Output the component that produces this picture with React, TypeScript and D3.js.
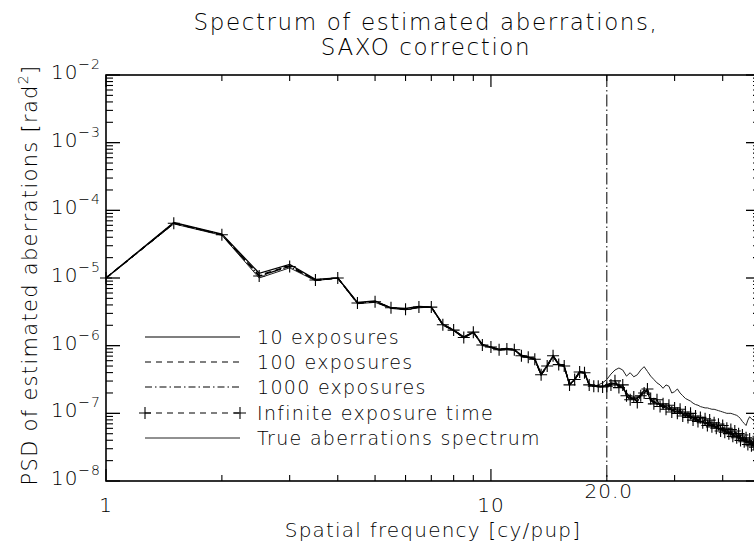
import React from 'react';
import * as d3 from 'd3';

// Spatial frequency grid [cy/pup]
const freq = [1,1.5,2,2.5,3,3.5,4,4.5,5,5.5,6,6.5,7,7.5,8,8.5,9,9.5,10,10.5,11,11.5,12,12.5,13,13.5,14,14.5,15,15.5,16,16.5,17,17.5,18,18.5,19,19.5,20,20.5,21,21.5,22,22.5,23,23.5,24,24.5,25,25.5,26,26.5,27,27.5,28,28.5,29,29.5,30,30.5,31,31.5,32,32.5,33,33.5,34,34.5,35,35.5,36,36.5,37,37.5,38,38.5,39,39.5,40,40.5,41,41.5,42,42.5,43,43.5,44,44.5,45,45.5,46,46.5,47,47.5,48,48.5,49,49.5,50];

// log10 of PSD [rad^2]
const infiniteLog = [-5.00,-4.19,-4.36,-4.97,-4.83,-5.03,-5.00,-5.37,-5.35,-5.44,-5.46,-5.43,-5.43,-5.69,-5.77,-5.88,-5.80,-5.99,-6.02,-6.06,-6.05,-6.06,-6.15,-6.17,-6.20,-6.43,-6.30,-6.15,-6.28,-6.30,-6.58,-6.50,-6.39,-6.40,-6.58,-6.60,-6.60,-6.61,-6.60,
-6.58,-6.52,-6.62,-6.58,-6.74,-6.80,-6.76,-6.84,-6.74,-6.70,-6.64,-6.78,-6.86,-6.80,-6.90,-6.86,-6.94,-6.88,-6.98,-6.92,-7.00,-6.94,-7.04,-6.98,-7.06,-7.00,-7.10,-7.04,-7.12,-7.06,-7.14,-7.08,-7.18,-7.10,-7.20,-7.14,-7.22,-7.16,-7.26,-7.18,-7.28,-7.22,-7.30,-7.24,-7.34,-7.26,-7.36,-7.30,-7.40,-7.32,-7.42,-7.36,-7.46,-7.38,-7.48,-7.42,-7.50,-7.44,-7.54,-7.48];

const exp10Log = [-5.00,-4.18,-4.35,-4.93,-4.80,-5.02,-5.00,-5.36,-5.34,-5.44,-5.45,-5.42,-5.43,-5.68,-5.77,-5.87,-5.80,-5.98,-6.02,-6.05,-6.04,-6.06,-6.14,-6.17,-6.19,-6.42,-6.29,-6.15,-6.27,-6.30,-6.57,-6.50,-6.38,-6.40,-6.57,-6.59,-6.60,-6.60,-6.58,
-6.55,-6.56,-6.58,-6.63,-6.70,-6.76,-6.80,-6.78,-6.72,-6.66,-6.68,-6.82,-6.82,-6.86,-6.86,-6.92,-6.90,-6.94,-6.94,-6.98,-6.96,-7.00,-7.00,-7.04,-7.02,-7.08,-7.06,-7.10,-7.10,-7.12,-7.12,-7.16,-7.14,-7.18,-7.16,-7.20,-7.20,-7.24,-7.22,-7.26,-7.26,-7.28,-7.28,-7.32,-7.30,-7.34,-7.34,-7.38,-7.36,-7.40,-7.40,-7.44,-7.42,-7.46,-7.46,-7.48,-7.48,-7.52,-7.50];

const exp100Log = [-5.00,-4.19,-4.36,-4.96,-4.82,-5.03,-5.00,-5.37,-5.35,-5.44,-5.46,-5.43,-5.43,-5.69,-5.77,-5.88,-5.80,-5.99,-6.02,-6.06,-6.05,-6.06,-6.15,-6.17,-6.20,-6.43,-6.30,-6.15,-6.28,-6.30,-6.58,-6.50,-6.39,-6.40,-6.58,-6.60,-6.60,-6.61,-6.60,
-6.57,-6.54,-6.60,-6.60,-6.72,-6.78,-6.78,-6.81,-6.73,-6.68,-6.66,-6.80,-6.84,-6.83,-6.88,-6.89,-6.92,-6.91,-6.96,-6.95,-6.98,-6.97,-7.02,-7.01,-7.04,-7.04,-7.08,-7.07,-7.11,-7.09,-7.13,-7.12,-7.16,-7.14,-7.18,-7.17,-7.21,-7.20,-7.24,-7.22,-7.27,-7.25,-7.29,-7.28,-7.32,-7.30,-7.35,-7.34,-7.38,-7.36,-7.41,-7.40,-7.44,-7.42,-7.47,-7.45,-7.49,-7.48,-7.53,-7.49];

const exp1000Log = [-5.00,-4.19,-4.36,-4.97,-4.83,-5.03,-5.00,-5.37,-5.35,-5.44,-5.46,-5.43,-5.43,-5.69,-5.77,-5.88,-5.80,-5.99,-6.02,-6.06,-6.05,-6.06,-6.15,-6.17,-6.20,-6.43,-6.30,-6.15,-6.28,-6.30,-6.58,-6.50,-6.39,-6.40,-6.58,-6.60,-6.60,-6.61,-6.60,
-6.58,-6.52,-6.61,-6.59,-6.74,-6.80,-6.77,-6.83,-6.74,-6.70,-6.65,-6.79,-6.85,-6.81,-6.89,-6.87,-6.93,-6.89,-6.97,-6.93,-6.99,-6.95,-7.03,-6.99,-7.05,-7.01,-7.09,-7.05,-7.11,-7.07,-7.14,-7.09,-7.17,-7.11,-7.19,-7.15,-7.21,-7.18,-7.25,-7.20,-7.27,-7.23,-7.29,-7.26,-7.33,-7.28,-7.35,-7.31,-7.39,-7.34,-7.41,-7.37,-7.45,-7.39,-7.47,-7.43,-7.50,-7.45,-7.53,-7.48];

const trueLog = [-5.00,-4.20,-4.37,-5.00,-4.85,-5.04,-5.00,-5.38,-5.36,-5.45,-5.47,-5.44,-5.43,-5.70,-5.78,-5.89,-5.81,-6.00,-6.03,-6.07,-6.06,-6.07,-6.16,-6.18,-6.21,-6.44,-6.31,-6.16,-6.29,-6.31,-6.58,-6.51,-6.40,-6.41,-6.58,-6.60,-6.58,-6.55,-6.50,
-6.42,-6.36,-6.33,-6.36,-6.45,-6.40,-6.46,-6.43,-6.36,-6.31,-6.38,-6.45,-6.50,-6.55,-6.58,-6.63,-6.58,-6.60,-6.70,-6.68,-6.64,-6.70,-6.74,-6.78,-6.80,-6.82,-6.85,-6.87,-6.88,-6.90,-6.91,-6.92,-6.92,-6.93,-6.94,-6.94,-6.95,-6.96,-6.97,-6.98,-6.99,-7.00,-7.00,-7.00,-7.01,-7.02,-7.03,-7.05,-7.08,-7.12,-7.15,-7.18,-7.10,-7.05,-7.08,-7.10,-7.13,-7.15,-7.18,-7.20];

const legendLabels = ['10 exposures', '100 exposures', '1000 exposures', 'Infinite exposure time', 'True aberrations spectrum'];
const yDecades = [-8, -7, -6, -5, -4, -3, -2];
const xLabelTicks = [1, 10];
const xMinorTicks = [2, 3, 4, 5, 6, 7, 8, 9, 20, 30, 40];
const titleLines = ['Spectrum of estimated aberrations,', 'SAXO correction'];

const FONT = '"DejaVu Sans", sans-serif';

export default function App() {
  const W = 754, H = 547;
  const L = 106, R = 760, T = 75, B = 481;
  const x = d3.scaleLog().domain([1, 50]).range([L, R]);
  const y = d3.scaleLog().domain([1e-8, 1e-2]).range([B, T]);

  const mk = (arr: number[]) => freq.map((f, i) => [f, Math.pow(10, arr[i])] as [number, number]);
  const line = d3.line<[number, number]>().x(d => x(d[0])).y(d => y(d[1]));

  const sInf = mk(infiniteLog);
  const s10 = mk(exp10Log);
  const s100 = mk(exp100Log);
  const s1000 = mk(exp1000Log);
  const sTrue = mk(trueLog);

  const yMinor: number[] = [];
  yDecades.slice(0, -1).forEach(e => { for (let k = 2; k <= 9; k++) yMinor.push(k * Math.pow(10, e)); });

  const plus = (cx: number, cy: number, key: string, s = 6) => (
    <path key={key} d={`M${cx - s},${cy}H${cx + s}M${cx},${cy - s}V${cy + s}`} stroke="#000" strokeWidth={1.1} fill="none" />
  );

  const legY = [337, 362, 387, 413, 438];
  const legX1 = 145, legX2 = 240, legText = 257;
  const dashes = [undefined, '6,5', '7,3,1.5,3', '6,5', undefined];

  return (
    <svg width={W} height={H} style={{ position: 'absolute', left: 0, top: 0, background: '#fff' }} fontFamily={FONT}>
      <rect x={0} y={0} width={W} height={H} fill="#fff" />
      {/* title */}
      {titleLines.map((t, i) => (
        <text key={t} x={426} y={30 + i * 25} textAnchor="middle" fontSize={23} fontWeight={200} letterSpacing={1.6} fill="#000">{t}</text>
      ))}

      {/* frame */}
      <rect x={L} y={T} width={R - L} height={B - T} fill="none" stroke="#000" strokeWidth={1.6} />

      {/* y ticks */}
      {yDecades.map(e => {
        const yy = y(Math.pow(10, e));
        return (
          <g key={'yd' + e}>
            <line x1={L} x2={L + 14} y1={yy} y2={yy} stroke="#000" strokeWidth={1.3} />
            <line x1={R} x2={R - 14} y1={yy} y2={yy} stroke="#000" strokeWidth={1.3} />
            <text x={101} y={yy + 4} textAnchor="end" fontSize={20} fontWeight={200} letterSpacing={1} fill="#000">
              10<tspan dy={-10} fontSize={14}>{'\u2212' + Math.abs(e)}</tspan>
            </text>
          </g>
        );
      })}
      {yMinor.map((v, i) => (
        <g key={'ym' + i}>
          <line x1={L} x2={L + 7} y1={y(v)} y2={y(v)} stroke="#000" strokeWidth={1.1} />
          <line x1={R} x2={R - 7} y1={y(v)} y2={y(v)} stroke="#000" strokeWidth={1.1} />
        </g>
      ))}

      {/* x ticks */}
      {xLabelTicks.map(v => (
        <g key={'xl' + v}>
          <line x1={x(v)} x2={x(v)} y1={B} y2={B - 12} stroke="#000" strokeWidth={1.2} />
          <line x1={x(v)} x2={x(v)} y1={T} y2={T + 12} stroke="#000" strokeWidth={1.2} />
          <text x={x(v)} y={512} textAnchor="middle" fontSize={20} fontWeight={200} letterSpacing={1} fill="#000">{v}</text>
        </g>
      ))}
      {xMinorTicks.map(v => (
        <g key={'xm' + v}>
          <line x1={x(v)} x2={x(v)} y1={B} y2={B - 6} stroke="#000" strokeWidth={1.1} />
          <line x1={x(v)} x2={x(v)} y1={T} y2={T + 6} stroke="#000" strokeWidth={1.1} />
        </g>
      ))}

      {/* vertical dash-dot line at 20 */}
      <line x1={x(20)} x2={x(20)} y1={T} y2={B} stroke="#000" strokeWidth={1} strokeDasharray="12,3,1.5,3" />
      <text x={x(20) + 2} y={498} textAnchor="middle" fontSize={20} fontWeight={200} letterSpacing={1} fill="#000">20.0</text>

      {/* axis titles */}
      <text x={433} y={537} textAnchor="middle" fontSize={20} fontWeight={200} letterSpacing={1.2} fill="#000">Spatial frequency [cy/pup]</text>
      <text transform={`translate(37,275) rotate(-90)`} textAnchor="middle" fontSize={21} fontWeight={200} letterSpacing={1.3} fill="#000">
        PSD of estimated aberrations [rad<tspan dy={-9} fontSize={14}>2</tspan><tspan dy={9}>]</tspan>
      </text>

      {/* series */}
      <path d={line(sTrue) || ''} fill="none" stroke="#222" strokeWidth={1} />
      <path d={line(s10) || ''} fill="none" stroke="#000" strokeWidth={1.3} />
      <path d={line(s100) || ''} fill="none" stroke="#000" strokeWidth={1.3} strokeDasharray="6,5" />
      <path d={line(s1000) || ''} fill="none" stroke="#000" strokeWidth={1.3} strokeDasharray="7,3,1.5,3" />
      <path d={line(sInf) || ''} fill="none" stroke="#000" strokeWidth={1.3} strokeDasharray="6,5" />
      {sInf.map((d, i) => plus(x(d[0]), y(d[1]), 'p' + i))}

      {/* legend */}
      {legendLabels.map((lab, i) => (
        <g key={lab}>
          <line x1={legX1} x2={legX2} y1={legY[i]} y2={legY[i]} stroke={i === 4 ? '#222' : '#000'} strokeWidth={i === 4 ? 1 : 1.2} strokeDasharray={dashes[i]} />
          {i === 3 && plus(legX1, legY[i], 'lp1')}
          {i === 3 && plus(legX2, legY[i], 'lp2')}
          <text x={legText} y={legY[i] + 7} fontSize={19} fontWeight={200} letterSpacing={1.3} fill="#000">{lab}</text>
        </g>
      ))}
    </svg>
  );
}
